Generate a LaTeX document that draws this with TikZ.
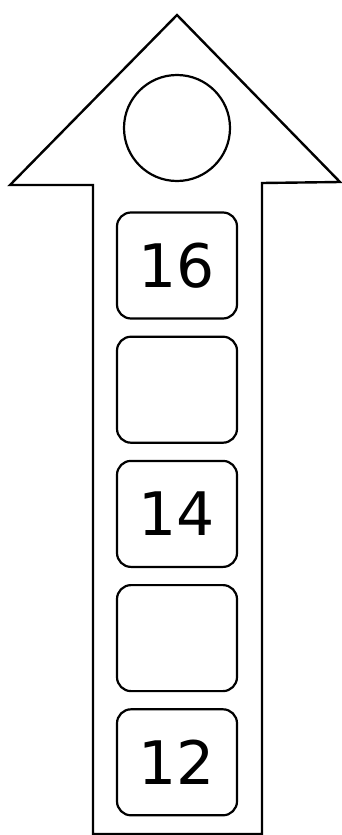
\documentclass[tikz,border=0pt]{standalone}
\usepackage{fontspec}
\setmainfont{DejaVu Sans}
\usepackage{tikz}
\usetikzlibrary{positioning}

\begin{document}
\begin{tikzpicture}[
    x=0.5pt, y=-0.5pt,
    slot/.style={rectangle, draw, rounded corners=7pt, line width=1.1pt, minimum width=60pt, minimum height=53pt, inner sep=0pt, align=center, font=\fontsize{30}{30}\selectfont},
    node distance=8pt
]
    \useasboundingbox (0,0) rectangle (342,835);
    % arrow outline
    \draw[line width=1.2pt, line join=miter] (177,15) -- (340,182) -- (262,183) -- (262,834) -- (93,834) -- (93,185) -- (10,185) -- cycle;
    \node[circle, draw, line width=1.1pt, minimum size=53pt, inner sep=0pt] (goal) at (177,128) {};
    \node[slot] (n16) at (177,265.5) {16};
    \node[slot, below=of n16] (n15) {};
    \node[slot, below=of n15] (n14) {14};
    \node[slot, below=of n14] (n13) {};
    \node[slot, below=of n13] (n12) {12};
\end{tikzpicture}
\end{document}
